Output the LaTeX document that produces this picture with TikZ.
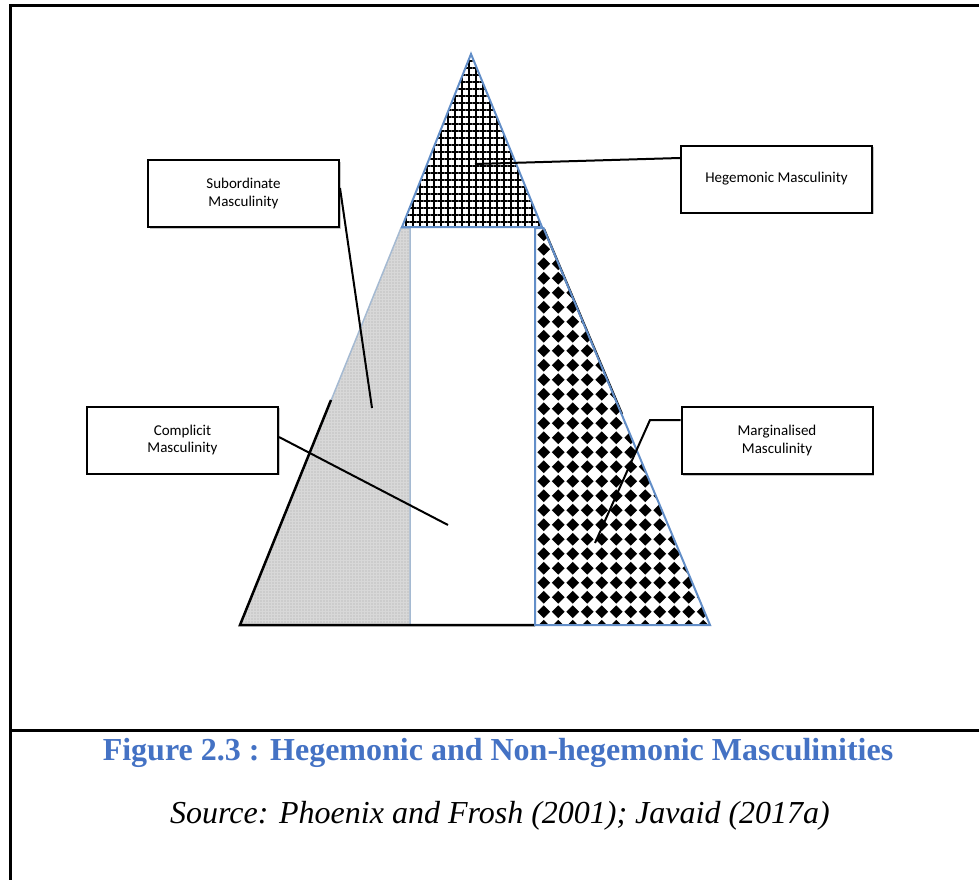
\documentclass[tikz,border=0pt]{standalone}
\usepackage{fontspec}
\setmainfont{Liberation Serif}
\newfontfamily\boxfont{Carlito}
\usetikzlibrary{patterns.meta,shadows}
\definecolor{edgeblue}{RGB}{98,142,200}
\definecolor{capblue}{RGB}{68,114,196}
\definecolor{subgray}{RGB}{216,216,216}
\definecolor{subedge}{RGB}{165,186,210}
\pgfdeclarepatternformonly{mydiamonds}{\pgfpoint{-1pt}{-1pt}}{\pgfpoint{15.5pt}{15.5pt}}{\pgfpoint{14.5pt}{14.5pt}}{%
  \pgfpathmoveto{\pgfpoint{7.25pt}{0.9pt}}%
  \pgfpathlineto{\pgfpoint{13.6pt}{7.25pt}}%
  \pgfpathlineto{\pgfpoint{7.25pt}{13.6pt}}%
  \pgfpathlineto{\pgfpoint{0.9pt}{7.25pt}}%
  \pgfpathclose\pgfusepath{fill}}
\begin{document}
\begin{tikzpicture}[x=1pt,y=-1pt,
  mbox/.style={draw, line width=2pt, fill=white, minimum width=191pt, minimum height=67pt,
    align=center, inner sep=2pt, font=\boxfont\fontsize{15}{17.5}\selectfont,
    drop shadow={shadow xshift=1.5pt, shadow yshift=-1.5pt, fill=black!45, opacity=0.5}},
  conn/.style={line width=2pt, black},
  frame/.style={line width=3pt, black},
  blueedge/.style={draw=edgeblue, line width=2pt, line join=miter}]
\useasboundingbox (0,0) rectangle (979,880);
\fill[white] (0,0) rectangle (979,880);
% frame
\draw[frame, line join=miter] (979,6) -- (10,6) -- (10,880);
\draw[frame] (10,730) -- (979,730);
% coordinates of the pyramid
\coordinate (apex) at (471,54);
\coordinate (bl) at (240,625);
\coordinate (br) at (710,625);
\coordinate (hl) at (402,227);
\coordinate (hr) at (542,227);
\coordinate (gtl) at (401,228);
\coordinate (gtr) at (410,228);
\coordinate (gbr) at (410,625);
\coordinate (dtl) at (535,228);
\coordinate (dtr) at (543.5,228);
\coordinate (dbl) at (535,625);
% subordinate (grey) region
\fill[subgray] (bl) -- (gtl) -- (gtr) -- (gbr) -- cycle;
\fill[pattern={Dots[radius=0.6pt,distance=3pt]}, pattern color=black!34] (bl) -- (gtl) -- (gtr) -- (gbr) -- cycle;
\draw[subedge, line width=1.5pt] (bl) -- (gtl) -- (gtr) -- (gbr);
% black outline parts of the big triangle
\draw[line width=2.5pt] (331,400) -- (bl) -- (dbl);
% marginalised (diamond) region
\fill[white] (dtl) -- (dtr) -- (br) -- (dbl) -- cycle;
\fill[pattern=mydiamonds] (dtl) -- (dtr) -- (br) -- (dbl) -- cycle;
\draw[line width=2.2pt] (544,229) -- (622,414);
\draw[blueedge] (dtl) -- (dtr) -- (br) -- (dbl) -- cycle;
% hegemonic (cross-hatched) triangle
\fill[white] (apex) -- (hl) -- (hr) -- cycle;
\fill[pattern={Hatch[angle=0,distance=7pt,line width=2.1pt]}] (apex) -- (hl) -- (hr) -- cycle;
\draw[blueedge] (apex) -- (hl) -- (hr) -- cycle;
% label boxes
\node[mbox] (sub) at (243.5,193.5) {Subordinate\\Masculinity};
\node[mbox] (heg) at (776.5,179) {Hegemonic Masculinity};
\node[mbox] (comp) at (182.5,440) {Complicit\\Masculinity};
\node[mbox] (marg) at (777,440.5) {Marginalised\\Masculinity};
% connector ends
\coordinate (subend) at (372,408);
\coordinate (hegend) at (475,164);
\coordinate (compend) at (448,525);
\coordinate (margbend) at (650,420);
\coordinate (margend) at (595,543);
\draw[conn] ([yshift=5.5pt]sub.east) -- (subend);
\draw[conn] ([yshift=21pt]heg.west) -- (hegend);
\draw[conn] ([yshift=3pt]comp.east) -- (compend);
\draw[conn, line join=miter] ([yshift=20.5pt]marg.west) -- (margbend) -- (margend);
% caption
\node[anchor=base, text=capblue, font=\bfseries\fontsize{32}{38}\selectfont] (cap) at (498,760) {Figure 2.3 : Hegemonic and Non-hegemonic Masculinities};
\node[anchor=base, font=\itshape\fontsize{32}{38}\selectfont] (src) at (500,823) {Source: Phoenix and Frosh (2001); Javaid (2017a)};
\end{tikzpicture}
\end{document}
